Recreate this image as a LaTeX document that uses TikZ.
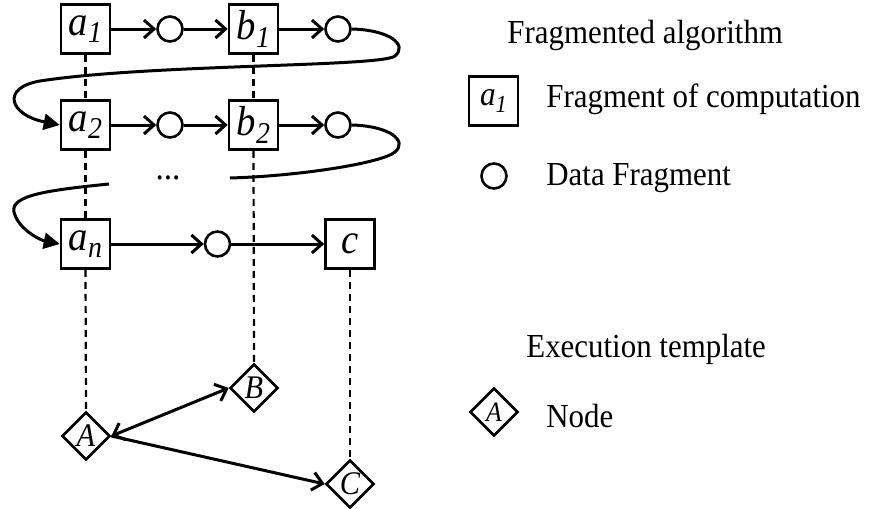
\documentclass[tikz,border=0pt]{standalone}
\usepackage{fontspec}
\setmainfont{Liberation Serif}[FakeStretch=0.92]
\usetikzlibrary{arrows.meta,shapes.geometric}
\newcommand{\lbl}[2]{\textit{#1}\raisebox{-0.18em}{\scalebox{0.72}{\textit{#2}}}}
\begin{document}
\begin{tikzpicture}[x=0.5pt,y=-0.5pt,
  fragbox/.style={draw,line width=1.3pt,minimum size=24.5pt,inner sep=0pt,font=\fontsize{21}{21}\selectfont},
  datac/.style={draw,circle,line width=1.3pt,minimum size=12.5pt,inner sep=0pt},
  tnode/.style={draw,diamond,aspect=1,line width=1.3pt,minimum width=24pt,minimum height=24pt,inner sep=0pt,font=\fontsize{16.5}{16.5}\selectfont\itshape},
  flow/.style={line width=1.5pt,-{Straight Barb[length=5pt,width=9pt]}},
  bflow/.style={line width=1.5pt,{Straight Barb[length=5pt,width=9pt]}-{Straight Barb[length=5pt,width=9pt]}},
  curv/.style={line width=1.5pt,-{Triangle[length=8pt,width=8pt]}},
  vline/.style={line width=1.1pt,dash pattern=on 3.5pt off 2.5pt},
  legtext/.style={anchor=base west,inner sep=0pt,font=\fontsize{16.8}{16.8}\selectfont}]
\useasboundingbox (0,0) rectangle (874,509);
% row 1
\node[fragbox] (a1) at (85.5,29) {\lbl{a}{1}};
\node[datac] (c1) at (170,29) {};
\node[fragbox] (b1) at (253.5,29) {\lbl{b}{1}};
\node[datac] (c2) at (338,29) {};
% row 2
\node[fragbox] (a2) at (85.5,125) {\lbl{a}{2}};
\node[datac] (c3) at (170,125) {};
\node[fragbox] (b2) at (253.5,125) {\lbl{b}{2}};
\node[datac] (c4) at (338,125) {};
\node[inner sep=0pt,font=\fontsize{18}{18}\selectfont] (dots) at (168,178) {...};
% row n
\node[fragbox] (an) at (85.5,244) {\lbl{a}{n}};
\node[datac] (c5) at (217.5,244) {};
\node[fragbox] (cc) at (350,244) {\textit{c}};
% template nodes
\node[tnode] (A) at (86,436) {A};
\node[tnode] (B) at (254,388) {B};
\node[tnode] (C) at (350,484) {C};
\coordinate (s1) at (230,178);
\coordinate (s2) at (109,184);
% dashed
\draw[vline] (a1.south) -- (a2.north);
\draw[vline] (a2.south) -- (an.north);
\draw[vline] (an.south) -- (A.north);
\draw[vline] (b1.south) -- (b2.north);
\draw[vline] (b2.south) -- (B.north);
\draw[vline] (cc.south) -- (C.north);
% flows
\draw[flow] (a1) -- (c1);
\draw[flow] (c1) -- (b1);
\draw[flow] (b1) -- (c2);
\draw[flow] (a2) -- (c3);
\draw[flow] (c3) -- (b2);
\draw[flow] (b2) -- (c4);
\draw[flow] (an) -- (c5);
\draw[flow] (c5) -- (cc);
\draw[bflow] (A.east) -- (B.west);
\draw[flow] (A.east) -- (C.west);
% curves
\draw[curv] (c2.east) .. controls (390,30) and (408,45) .. (395,56)
  .. controls (382,67) and (150,64) .. (40,81)
  .. controls (0,88) and (10,115) .. (a2.west);
\draw[line width=1.5pt] (c4.east) .. controls (390,126) and (408,141) .. (395,152)
  .. controls (382,163) and (300,176) .. (s1);
\draw[curv] (s2) .. controls (50,190) and (10,195) .. (14,212)
  .. controls (18,229) and (40,240) .. (an.west);
% legend
\node[legtext] (t1) at (507,43) {Fragmented algorithm};
\node[fragbox,font=\fontsize{17}{17}\selectfont] (lb) at (493.5,101) {\lbl{a}{1}};
\node[legtext] (t2) at (546,107) {Fragment of computation};
\node[datac] (lc) at (494,176) {};
\node[legtext] (t3) at (546,185) {Data Fragment};
\node[legtext] (t4) at (526,357) {Execution template};
\node[tnode,font=\fontsize{14}{14}\selectfont\itshape] (ld) at (494,412) {A};
\node[legtext] (t5) at (546,427) {Node};
\end{tikzpicture}
\end{document}
